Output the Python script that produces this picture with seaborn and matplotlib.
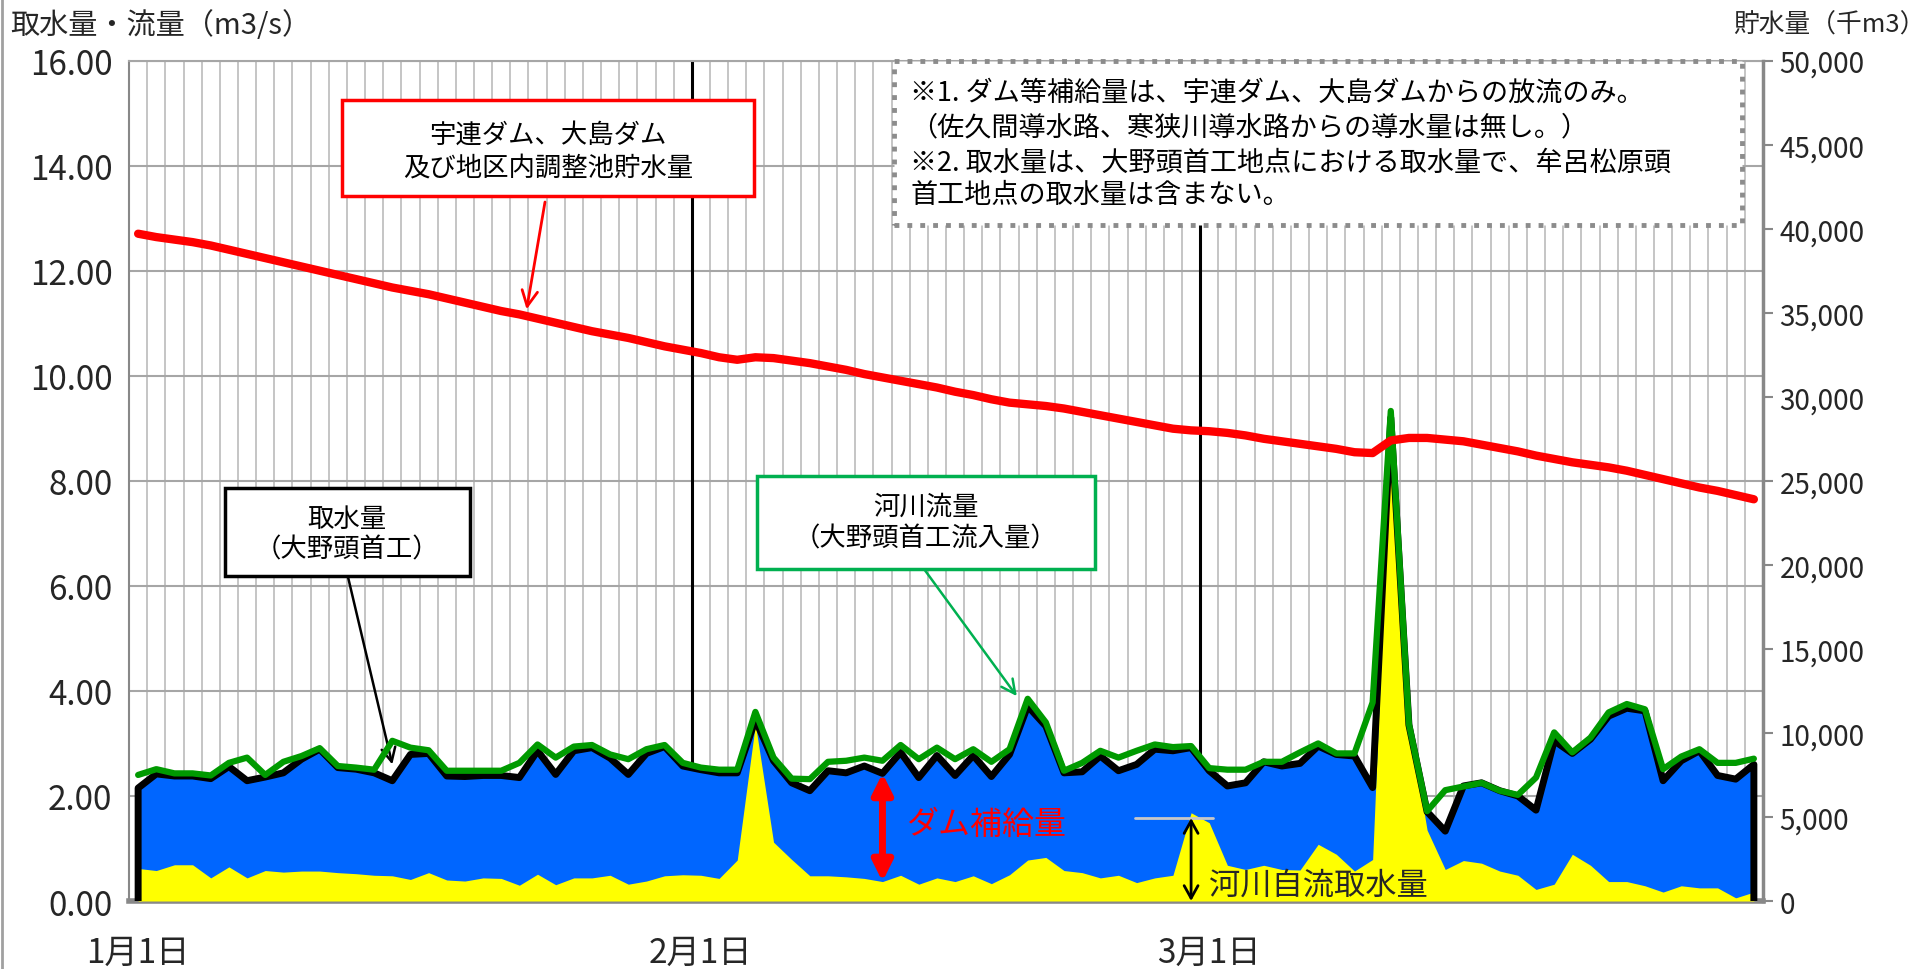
import numpy as np
import pandas as pd
import matplotlib
matplotlib.use('Agg')
import matplotlib.pyplot as plt
import seaborn as sns
from matplotlib.patches import Rectangle
from matplotlib.lines import Line2D
from matplotlib.ticker import FuncFormatter

sns.set_theme(style='white')
plt.rcParams['font.family'] = ['Noto Sans CJK JP', 'DejaVu Sans']

# 1/1 ~ 3/31 の日別データ
dates = pd.date_range('2019-01-01', '2019-03-31')

# 取水量（大野頭首工） m3/s
intake = [2.15, 2.42, 2.38, 2.38, 2.33, 2.56, 2.29, 2.36, 2.44, 2.70,
          2.89, 2.54, 2.51, 2.44, 2.29, 2.79, 2.81, 2.38, 2.37, 2.39,
          2.39, 2.35, 2.86, 2.41, 2.86, 2.92, 2.72, 2.41, 2.81, 2.94,
          2.57, 2.50, 2.44, 2.44, 3.45, 2.67, 2.25, 2.10, 2.48, 2.44,
          2.57, 2.43, 2.83, 2.35, 2.77, 2.39, 2.77, 2.37, 2.79, 3.71,
          3.33, 2.44, 2.46, 2.76, 2.48, 2.60, 2.89, 2.86, 2.92, 2.48,
          2.19, 2.25, 2.65, 2.57, 2.62, 2.95, 2.79, 2.76, 2.16, 9.20,
          3.35, 1.70, 1.33, 2.19, 2.25, 2.10, 2.00, 1.73, 3.05, 2.81,
          3.08, 3.52, 3.67, 3.62, 2.29, 2.67, 2.86, 2.39, 2.32, 2.60]

# 河川流量（大野頭首工流入量） m3/s
river_flow = [2.40, 2.51, 2.43, 2.43, 2.39, 2.63, 2.73, 2.40, 2.65, 2.76,
              2.91, 2.57, 2.54, 2.50, 3.05, 2.92, 2.87, 2.48, 2.48, 2.48,
              2.48, 2.63, 2.98, 2.73, 2.94, 2.97, 2.79, 2.70, 2.89, 2.97,
              2.63, 2.54, 2.50, 2.50, 3.60, 2.73, 2.33, 2.32, 2.65, 2.67,
              2.73, 2.67, 2.97, 2.70, 2.92, 2.70, 2.89, 2.65, 2.89, 3.85,
              3.40, 2.48, 2.63, 2.86, 2.73, 2.86, 2.98, 2.93, 2.95, 2.53,
              2.50, 2.50, 2.65, 2.65, 2.83, 3.00, 2.81, 2.81, 3.78, 9.33,
              3.37, 1.71, 2.11, 2.18, 2.25, 2.10, 2.02, 2.35, 3.21, 2.83,
              3.11, 3.59, 3.75, 3.65, 2.51, 2.75, 2.89, 2.63, 2.63, 2.71]

# 河川自流取水量 m3/s
natural_intake = [0.62, 0.58, 0.69, 0.69, 0.44, 0.65, 0.44, 0.58, 0.55, 0.57,
                  0.57, 0.54, 0.52, 0.49, 0.48, 0.41, 0.54, 0.40, 0.38, 0.44,
                  0.43, 0.30, 0.51, 0.31, 0.44, 0.44, 0.49, 0.32, 0.38, 0.48,
                  0.50, 0.49, 0.43, 0.78, 3.37, 1.12, 0.79, 0.48, 0.48, 0.46,
                  0.43, 0.37, 0.49, 0.32, 0.44, 0.37, 0.48, 0.33, 0.50, 0.78,
                  0.83, 0.58, 0.54, 0.44, 0.49, 0.35, 0.44, 0.49, 1.68, 1.49,
                  0.68, 0.60, 0.68, 0.60, 0.59, 1.08, 0.89, 0.57, 0.79, 9.00,
                  3.40, 1.35, 0.60, 0.77, 0.72, 0.57, 0.49, 0.22, 0.32, 0.89,
                  0.68, 0.37, 0.37, 0.29, 0.17, 0.29, 0.25, 0.25, 0.06, 0.17]

# 宇連ダム、大島ダム及び地区内調整池貯水量 千m3
storage = [39700, 39500, 39350, 39200, 39000, 38750, 38500, 38250, 38000, 37750,
           37500, 37250, 37000, 36750, 36500, 36300, 36100, 35850, 35600, 35350,
           35100, 34900, 34650, 34400, 34150, 33900, 33700, 33500, 33250, 33000,
           32800, 32600, 32350, 32200, 32350, 32300, 32150, 32000, 31800, 31600,
           31350, 31150, 30950, 30750, 30550, 30300, 30100, 29850, 29650, 29550,
           29450, 29300, 29100, 28900, 28700, 28500, 28300, 28100, 28000, 27950,
           27850, 27700, 27500, 27350, 27200, 27050, 26900, 26700, 26650, 27400,
           27550, 27550, 27450, 27350, 27150, 26950, 26750, 26500, 26300, 26100,
           25950, 25800, 25600, 25350, 25100, 24850, 24600, 24400, 24150, 23900]

tick_days = [0, 31, 59]
tick_labels = ['1月1日', '2月1日', '3月1日']

df = pd.DataFrame({'day': np.arange(len(dates)), 'intake': intake,
                   'flow': river_flow, 'natural': natural_intake,
                   'storage': storage})

W, H = 1932, 970


def fx(px):
    return px / W


def fy(py):
    return 1 - py / H


fig = plt.figure(figsize=(W / 100, H / 100), dpi=100)
ax = fig.add_axes([0.0668, 0.0701, 0.8457, 0.8664])
ax2 = ax.twinx()

# 面積（取水量=青、自流取水量=黄）
ax.fill_between(df['day'], 0, df['intake'], color='#0066FF', lw=0, zorder=2)
ax.fill_between(df['day'], 0, df['natural'], color='#FFFF00', lw=0, zorder=3)
# 取水量の枠線（両端は縦線で閉じる）
edge_x = np.r_[df['day'].iloc[0], df['day'], df['day'].iloc[-1]]
edge_y = np.r_[0, df['intake'], 0]
ax.plot(edge_x, edge_y, color='black', lw=5, zorder=4, solid_joinstyle='round')
sns.lineplot(data=df, x='day', y='flow', ax=ax, color='#009A00', lw=4.5, zorder=5)
sns.lineplot(data=df, x='day', y='storage', ax=ax2, color='#FF0000', lw=6, zorder=5)

# 軸・グリッド
ax.set_xlim(-0.5, len(df) - 0.5)
ax.set_ylim(0, 16)
ax.set_yticks(np.arange(0, 16.1, 2))
ax.yaxis.set_major_formatter(FuncFormatter(lambda v, p: f'{v:.2f}'))
ax.set_xticks(tick_days)
ax.set_xticklabels(tick_labels)
ax.set_xticks(np.arange(0.5, len(df) - 1, 1), minor=True)
ax.set_axisbelow(True)
ax.grid(axis='y', which='major', color='#A6A6A6', lw=1.5)
ax.grid(axis='x', which='minor', color='#C0C0C0', lw=1.3)
ax.grid(axis='x', which='major', visible=False)
for d in tick_days[1:]:
    ax.axvline(d - 0.5, color='black', lw=2.2, zorder=1)
ax.set_xlabel('')
ax.set_ylabel('')
ax.tick_params(axis='x', which='both', length=0, pad=24, labelsize=24)
ax.tick_params(axis='y', length=0, pad=12, labelsize=24)

ax2.set_ylim(0, 50000)
ax2.set_yticks(np.arange(0, 50001, 5000))
ax2.yaxis.set_major_formatter(FuncFormatter(lambda v, p: f'{v:,.0f}'))
ax2.set_ylabel('')
ax2.tick_params(axis='y', length=7, width=1.5, color='#888888', pad=5,
                labelsize=20, direction='out', right=True)

for s in ['left', 'bottom', 'top']:
    ax2.spines[s].set_visible(False)
ax.spines['right'].set_visible(False)
ax.spines['left'].set_color('#888888')
ax.spines['left'].set_linewidth(1.5)
ax.spines['bottom'].set_color('#888888')
ax.spines['bottom'].set_linewidth(4)
ax.spines['top'].set_color('#A6A6A6')
ax.spines['top'].set_linewidth(1.5)
ax2.spines['right'].set_color('#888888')
ax2.spines['right'].set_linewidth(2.5)

# 軸タイトル
fig.text(fx(10), fy(26), '取水量・流量（m3/s）', fontsize=21, va='center', ha='left')
fig.text(fx(1926), fy(26), '貯水量（千m3）', fontsize=18.5, va='center', ha='right')


def add_box(x0, y0, x1, y1, ec, lw, ls='-'):
    r = Rectangle((fx(x0), fy(y1)), fx(x1) - fx(x0), fy(y0) - fy(y1),
                  transform=fig.transFigure, facecolor='white', edgecolor=ec,
                  lw=lw, ls=ls, zorder=10, clip_on=False)
    ax2.add_patch(r)


def add_text(x, y, s, size=19, ha='center', color='black'):
    ax2.text(fx(x), fy(y), s, transform=fig.transFigure, fontsize=size,
             ha=ha, va='center', color=color, zorder=11)


# 注記ボックス
add_box(342, 101, 754, 197, '#FF0000', 2.5)
add_text(548, 135, '宇連ダム、大島ダム')
add_text(548, 168, '及び地区内調整池貯水量')

add_box(225, 489, 470, 577, 'black', 2.5)
add_text(347, 519, '取水量')
add_text(347, 550, '（大野頭首工）')

add_box(757, 477, 1095, 570, '#00B050', 2.5)
add_text(926, 507, '河川流量')
add_text(926, 539, '（大野頭首工流入量）')

add_box(894, 62, 1742, 226, '#8C8C8C', 3.5, ':')
notes = ['※1. ダム等補給量は、宇連ダム、大島ダムからの放流のみ。',
         '（佐久間導水路、寒狭川導水路からの導水量は無し。）',
         '※2. 取水量は、大野頭首工地点における取水量で、牟呂松原頭',
         '首工地点の取水量は含まない。']
for yy, s in zip([93, 128, 163, 195], notes):
    add_text(910, yy, s, size=19.5, ha='left')

# 引出し線
ax2.annotate('', xy=(21.4, 35200), xytext=(fx(545), fy(203)),
             textcoords='figure fraction', annotation_clip=False,
             arrowprops=dict(arrowstyle='->', color='#FF0000', lw=2,
                             mutation_scale=28, shrinkA=0, shrinkB=0))
ax.annotate('', xy=(14.0, 2.6), xytext=(fx(348), fy(578)),
            textcoords='figure fraction', annotation_clip=False,
            arrowprops=dict(arrowstyle='->', color='black', lw=1.8,
                            mutation_scale=25, shrinkA=0, shrinkB=0))
ax.annotate('', xy=(48.4, 3.9), xytext=(fx(924), fy(570)),
            textcoords='figure fraction', annotation_clip=False,
            arrowprops=dict(arrowstyle='->', color='#00B050', lw=1.8,
                            mutation_scale=25, shrinkA=0, shrinkB=0))

# ダム補給量
d = 41
ax.annotate('', xy=(d, intake[d]), xytext=(d, natural_intake[d]), zorder=7,
            arrowprops=dict(arrowstyle='<|-|>,head_width=0.3,head_length=0.6',
                            color='#FF0000', lw=5, mutation_scale=20,
                            shrinkA=0, shrinkB=0))
ax.text(42.3, 1.46, 'ダム補給量', color='#FF0000', fontsize=23, va='center', zorder=7)

# 河川自流取水量
ax.plot([54.9, 59.2], [1.58, 1.58], color='#C8C8C8', lw=2, zorder=6)
ax.annotate('', xy=(58, 1.58), xytext=(58, 0.0), zorder=7, annotation_clip=False,
            arrowprops=dict(arrowstyle='<->,head_width=0.25,head_length=0.45',
                            color='black', lw=2, mutation_scale=20,
                            shrinkA=0, shrinkB=0))
ax.text(59.0, 0.32, '河川自流取水量', fontsize=22.5, va='center', zorder=7)

fig.add_artist(Line2D([0.001, 0.001], [0, 1], transform=fig.transFigure,
                      color='#A0A0A0', lw=2))

fig.savefig('out.png', dpi=100)
